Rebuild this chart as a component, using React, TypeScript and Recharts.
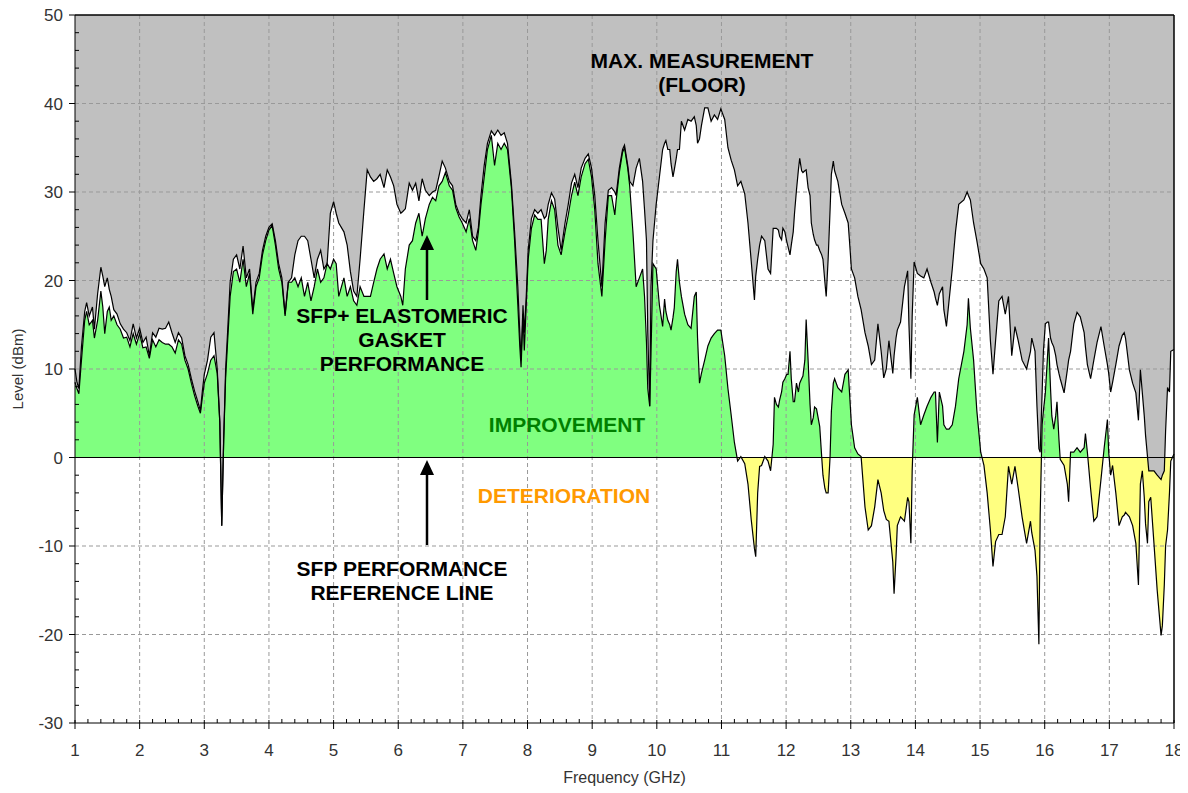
import React from "react";
import {
  Area,
  CartesianGrid,
  ComposedChart,
  Line,
  ReferenceLine,
  XAxis,
  YAxis,
} from "recharts";

// frequency (GHz), max measurement floor (dBm), SFP+ gasket level (dBm)
const FREQ = [
  1.0, 1.03, 1.06, 1.1, 1.15, 1.18, 1.22, 1.27, 1.3, 1.35, 1.4, 1.43, 1.46, 1.5, 1.53, 1.56, 1.6, 1.65, 1.7, 1.75,
  1.8, 1.85, 1.9, 1.95, 2.0, 2.05, 2.1, 2.15, 2.2, 2.25, 2.3, 2.35, 2.4, 2.45, 2.5, 2.55, 2.6, 2.65, 2.7, 2.75,
  2.8, 2.85, 2.9, 2.94, 2.97, 3.0, 3.05, 3.1, 3.15, 3.2, 3.24, 3.27, 3.3, 3.33, 3.36, 3.4, 3.45, 3.5, 3.55, 3.6,
  3.65, 3.7, 3.75, 3.8, 3.85, 3.9, 3.95, 4.0, 4.05, 4.1, 4.15, 4.2, 4.25, 4.3, 4.35, 4.4, 4.45, 4.5, 4.55, 4.6,
  4.65, 4.7, 4.75, 4.8, 4.85, 4.9, 4.95, 5.0, 5.04, 5.08, 5.16, 5.21, 5.26, 5.31, 5.36, 5.41, 5.47, 5.52, 5.57, 5.62,
  5.67, 5.72, 5.78, 5.83, 5.88, 5.93, 5.98, 6.04, 6.07, 6.11, 6.17, 6.22, 6.27, 6.32, 6.37, 6.42, 6.48, 6.53, 6.58, 6.63,
  6.68, 6.73, 6.79, 6.84, 6.89, 6.94, 6.99, 7.05, 7.1, 7.15, 7.2, 7.24, 7.28, 7.33, 7.38, 7.44, 7.49, 7.54, 7.59, 7.64,
  7.69, 7.75, 7.8, 7.85, 7.88, 7.9, 7.93, 7.95, 7.98, 8.01, 8.06, 8.11, 8.16, 8.21, 8.26, 8.29, 8.32, 8.37, 8.42, 8.47,
  8.52, 8.58, 8.63, 8.68, 8.73, 8.78, 8.83, 8.89, 8.94, 8.99, 9.04, 9.09, 9.15, 9.2, 9.25, 9.3, 9.35, 9.37, 9.42, 9.47,
  9.5, 9.55, 9.58, 9.63, 9.68, 9.73, 9.78, 9.81, 9.84, 9.86, 9.89, 9.91, 9.94, 9.99, 10.04, 10.09, 10.12, 10.14, 10.17, 10.2,
  10.22, 10.25, 10.27, 10.3, 10.32, 10.35, 10.38, 10.43, 10.48, 10.53, 10.58, 10.61, 10.63, 10.66, 10.69, 10.74, 10.79, 10.84, 10.89, 10.94,
  10.99, 11.05, 11.1, 11.15, 11.2, 11.25, 11.3, 11.36, 11.41, 11.46, 11.51, 11.53, 11.56, 11.59, 11.62, 11.67, 11.72, 11.76, 11.8, 11.82,
  11.85, 11.88, 11.9, 11.93, 11.95, 11.98, 12.01, 12.03, 12.06, 12.08, 12.11, 12.13, 12.16, 12.19, 12.21, 12.24, 12.26, 12.29, 12.31, 12.34,
  12.37, 12.39, 12.42, 12.44, 12.47, 12.49, 12.52, 12.55, 12.57, 12.6, 12.62, 12.65, 12.68, 12.7, 12.73, 12.75, 12.8, 12.86, 12.91, 12.96,
  12.98, 13.01, 13.06, 13.11, 13.16, 13.22, 13.27, 13.32, 13.37, 13.42, 13.47, 13.51, 13.55, 13.59, 13.65, 13.67, 13.7, 13.72, 13.77, 13.83,
  13.88, 13.9, 13.93, 13.95, 13.98, 14.03, 14.08, 14.13, 14.18, 14.24, 14.29, 14.31, 14.34, 14.37, 14.42, 14.44, 14.48, 14.52, 14.57, 14.62,
  14.67, 14.75, 14.8, 14.82, 14.85, 14.9, 14.95, 15.01, 15.06, 15.11, 15.16, 15.2, 15.24, 15.29, 15.34, 15.39, 15.44, 15.49, 15.54, 15.59,
  15.65, 15.72, 15.78, 15.8, 15.85, 15.88, 15.91, 15.93, 15.96, 15.98, 16.01, 16.04, 16.06, 16.09, 16.11, 16.14, 16.17, 16.19, 16.22, 16.24,
  16.3, 16.35, 16.37, 16.4, 16.45, 16.5, 16.55, 16.61, 16.63, 16.66, 16.71, 16.76, 16.81, 16.87, 16.92, 16.97, 16.99, 17.02, 17.05, 17.1,
  17.15, 17.2, 17.23, 17.25, 17.31, 17.36, 17.41, 17.45, 17.48, 17.51, 17.54, 17.56, 17.59, 17.61, 17.64, 17.69, 17.74, 17.8, 17.82, 17.85,
  17.87, 17.9, 17.93, 17.95, 18.0,
];

const MAX_FLOOR = [
  10.0, 8.5, 7.8, 12.5, 16.5, 17.5, 16.0, 17.0, 14.5, 18.5, 21.5, 20.5, 19.3, 20.3, 19.0, 18.2, 16.7, 16.2, 15.1, 14.5,
  14.1, 13.2, 15.1, 13.5, 14.6, 13.0, 13.6, 11.5, 14.1, 13.6, 14.6, 14.5, 14.6, 15.3, 14.1, 13.0, 14.1, 13.5, 11.5, 10.5,
  8.9, 7.5, 6.3, 5.3, 7.5, 9.4, 11.0, 13.6, 14.1, 10.0, 4.0, -7.7, 2.0, 10.0, 14.1, 19.8, 22.4, 22.9, 21.3, 23.9,
  20.3, 21.3, 16.7, 19.8, 20.8, 23.4, 25.0, 26.0, 26.4, 24.5, 21.9, 20.3, 16.2, 19.8, 20.3, 22.9, 24.5, 25.0, 25.0, 24.5,
  22.4, 20.3, 22.4, 23.4, 21.3, 21.9, 27.6, 28.9, 27.6, 26.5, 25.5, 24.0, 21.0, 18.8, 18.2, 22.4, 28.0, 32.5, 31.7, 31.2,
  31.5, 32.0, 30.5, 32.5, 31.7, 30.7, 28.6, 27.6, 27.8, 28.1, 31.0, 30.2, 31.0, 29.0, 31.5, 30.2, 29.6, 30.0, 30.2, 31.8,
  33.5, 32.7, 31.2, 30.7, 28.6, 27.6, 27.0, 26.5, 28.0, 25.0, 24.5, 26.0, 29.6, 33.0, 35.5, 36.9, 36.4, 37.0, 36.4, 36.7,
  35.5, 31.0, 25.5, 19.3, 14.1, 11.0, 17.2, 14.1, 18.2, 23.4, 27.0, 28.0, 27.6, 28.0, 27.0, 27.3, 28.6, 29.9, 29.2, 26.0,
  23.4, 26.5, 28.6, 31.0, 32.0, 30.5, 32.7, 33.8, 34.3, 32.7, 29.6, 24.5, 19.3, 26.5, 30.2, 30.5, 30.0, 29.6, 32.7, 34.8,
  35.3, 33.0, 31.2, 30.7, 32.7, 33.8, 31.2, 28.0, 24.5, 14.1, 5.8, 19.3, 24.5, 28.6, 31.7, 34.8, 35.5, 35.8, 34.8, 34.8,
  33.2, 31.7, 32.5, 33.8, 34.8, 34.8, 38.0, 37.0, 38.2, 38.0, 38.5, 37.5, 35.5, 36.0, 37.5, 39.5, 39.5, 38.0, 38.7, 38.2,
  39.4, 38.2, 35.0, 33.6, 32.5, 30.7, 31.2, 29.8, 26.5, 22.2, 17.8, 20.5, 22.4, 24.0, 25.0, 24.5, 21.3, 20.8, 25.9, 25.9,
  25.9, 25.7, 25.0, 24.6, 25.9, 25.5, 24.4, 23.8, 22.9, 24.0, 25.5, 27.6, 30.2, 32.5, 33.8, 32.4, 32.2, 32.4, 32.5, 30.5,
  29.6, 26.5, 25.2, 24.6, 24.0, 24.0, 23.4, 22.9, 22.4, 19.8, 18.2, 22.4, 28.0, 32.0, 33.5, 32.4, 31.2, 28.6, 27.6, 26.5,
  24.5, 21.3, 20.3, 18.2, 16.7, 14.1, 12.6, 10.5, 11.0, 15.1, 12.0, 9.0, 10.0, 13.2, 9.5, 11.5, 13.5, 14.4, 15.3, 19.3,
  21.1, 15.0, 8.9, 16.0, 22.1, 20.8, 20.5, 20.3, 21.3, 19.8, 18.7, 18.0, 17.2, 18.5, 19.3, 16.7, 14.8, 17.7, 21.3, 25.5,
  28.6, 29.1, 30.0, 29.6, 29.1, 26.5, 24.5, 21.9, 21.3, 20.3, 13.2, 9.4, 13.2, 17.7, 18.2, 16.2, 18.2, 11.5, 14.8, 13.2,
  11.0, 10.0, 12.0, 13.5, 12.0, 5.8, 1.0, 0.6, 7.3, 12.0, 15.1, 15.3, 15.3, 13.5, 13.0, 12.5, 11.5, 10.5, 9.5, 8.9,
  7.3, 9.9, 11.0, 12.0, 15.1, 16.4, 15.9, 14.1, 12.5, 10.5, 8.9, 11.0, 13.0, 14.8, 12.6, 10.5, 9.5, 7.4, 8.5, 10.5,
  12.6, 13.8, 14.1, 13.5, 9.9, 8.4, 7.3, 4.2, 9.9, 7.3, 4.7, 2.5, 0.1, -1.5, -1.5, -1.5, -2.0, -2.5, -2.0, -1.5,
  3.0, 7.9, 7.4, 12.0, 12.2,
];

const GASKET = [
  8.5, 7.8, 7.2, 11.0, 15.5, 16.5, 15.0, 15.5, 13.5, 15.5, 18.8, 17.0, 14.0, 16.5, 17.0, 15.5, 16.0, 15.0, 14.5, 13.5,
  13.6, 12.5, 14.0, 12.8, 14.0, 12.4, 12.5, 11.2, 13.3, 12.5, 13.3, 13.0, 12.8, 12.8, 12.5, 11.8, 13.3, 12.8, 11.0, 10.0,
  8.4, 7.0, 5.8, 5.0, 6.8, 8.4, 9.5, 11.0, 11.5, 9.5, 4.0, -7.7, 2.0, 9.0, 13.0, 18.2, 21.0, 21.3, 19.8, 22.4,
  19.3, 20.8, 16.2, 19.3, 20.3, 22.9, 24.5, 25.7, 26.2, 24.0, 21.3, 19.8, 16.0, 19.8, 19.8, 20.3, 19.3, 20.3, 18.2, 19.8,
  17.7, 19.3, 21.3, 19.8, 20.3, 21.9, 21.3, 22.4, 21.9, 18.2, 20.3, 18.2, 19.3, 17.7, 17.2, 19.3, 18.2, 18.2, 18.2, 19.8,
  21.3, 22.4, 23.0, 21.3, 22.4, 20.8, 19.3, 18.2, 17.2, 21.3, 24.0, 24.5, 26.5, 27.6, 25.0, 27.0, 28.6, 29.4, 29.0, 30.7,
  31.2, 32.2, 30.7, 30.2, 28.2, 27.2, 26.5, 25.5, 27.0, 24.5, 23.4, 25.5, 28.6, 31.7, 34.8, 36.4, 33.0, 35.5, 34.8, 35.5,
  34.8, 30.5, 24.5, 17.2, 12.6, 10.2, 16.2, 12.1, 17.2, 22.4, 25.9, 27.4, 26.9, 26.9, 21.9, 23.4, 26.9, 29.0, 28.0, 24.0,
  22.9, 25.5, 27.4, 29.6, 31.1, 29.6, 31.7, 33.2, 33.7, 31.7, 28.0, 21.9, 18.2, 24.5, 29.6, 29.6, 27.4, 29.0, 32.2, 34.5,
  35.0, 32.7, 30.7, 25.5, 19.3, 20.3, 21.3, 18.2, 13.0, 7.8, 5.8, 11.7, 21.9, 21.3, 17.2, 14.8, 17.9, 16.5, 15.5, 15.0,
  14.4, 15.8, 16.9, 21.0, 22.4, 19.8, 18.2, 16.2, 15.0, 14.6, 18.2, 18.7, 13.5, 8.4, 9.5, 11.0, 12.6, 13.5, 14.0, 14.4,
  14.4, 11.5, 7.8, 4.8, 1.7, -0.4, 0.1, -0.7, -3.0, -7.0, -10.3, -11.2, -4.0, -1.0, -0.9, 0.1, -0.4, -1.5, 1.5, 6.8,
  6.0, 5.7, 6.5, 7.4, 8.5, 8.9, 9.4, 9.4, 12.0, 8.9, 6.3, 6.3, 8.4, 7.4, 8.4, 8.9, 9.2, 11.0, 15.6, 11.0,
  6.0, 3.7, 4.5, 5.7, 5.5, 4.7, 3.5, 0.1, -2.0, -3.5, -4.0, -4.0, 0.1, 5.2, 8.4, 8.9, 7.9, 7.4, 9.4, 9.9,
  7.4, 3.7, 1.1, 0.4, 0.1, -5.6, -8.2, -7.7, -5.6, -2.5, -4.0, -6.0, -7.0, -7.2, -11.8, -15.4, -11.2, -7.7, -6.7, -7.2,
  -4.5, -5.0, -9.7, -1.5, 4.8, 6.8, 3.7, 4.8, 5.8, 6.8, 7.4, 7.4, 1.7, 7.4, 5.8, 3.7, 3.2, 3.2, 3.7, 5.8,
  8.9, 12.0, 15.0, 18.0, 14.6, 11.0, 5.3, 0.6, -0.9, -4.0, -8.2, -12.3, -9.5, -8.7, -8.7, -6.7, -1.0, -3.0, -1.0, -3.5,
  -6.7, -9.7, -7.2, -8.5, -10.5, -13.4, -21.1, -6.5, 3.7, 5.3, 7.3, 11.0, 13.5, 7.8, 4.7, 3.2, 4.7, 6.3, 2.1, -0.2,
  -0.9, -3.0, -5.0, 0.6, 0.6, 1.1, 0.6, 1.1, 2.7, 0.6, -3.5, -7.2, -6.7, -2.5, 1.1, 4.3, 0.6, -2.0, -0.9, -4.0,
  -7.7, -6.7, -6.5, -6.2, -6.7, -7.7, -9.7, -14.4, -3.0, -1.5, -4.5, -7.5, -9.7, -5.0, -4.5, -9.7, -15.0, -20.1, -19.0, -14.4,
  -10.0, -8.2, -4.0, -0.4, 0.4,
];

const X_MAJOR = [1, 2, 3, 4, 5, 6, 7, 8, 9, 10, 11, 12, 13, 14, 15, 16, 17, 18];
const Y_MAJOR = [-30, -20, -10, 0, 10, 20, 30, 40, 50];

const data = FREQ.map((f, i) => ({ f, max: MAX_FLOOR[i], gasket: GASKET[i] }));

// minor ticks: 5 steps between majors
const subdivide = (majors: number[]) => {
  const out: number[] = [];
  majors.forEach((m, i) => {
    out.push(m);
    if (i < majors.length - 1) {
      const step = (majors[i + 1] - m) / 5;
      for (let k = 1; k < 5; k++) out.push(+(m + step * k).toFixed(4));
    }
  });
  return out;
};
const xTicks = subdivide(X_MAJOR);
const yTicks = subdivide(Y_MAJOR);

// chart covers the whole page (body margin cancelled)
const W = 1188;
const H = 793;
const PLOT_LEFT = 75;
const PLOT_RIGHT = 1174;
const PLOT_TOP = 15;
const PLOT_BOTTOM = 723;
const FONT = "'Liberation Sans', Arial, sans-serif";

const XTick = ({ x, payload }: any) => {
  const v = payload.value;
  if (!X_MAJOR.includes(v)) {
    return <line x1={x} x2={x} y1={PLOT_BOTTOM - 4} y2={PLOT_BOTTOM} stroke="#000" />;
  }
  return (
    <g>
      <line x1={x} x2={x} y1={PLOT_BOTTOM - 3} y2={PLOT_BOTTOM + 6} stroke="#000" />
      <text x={x} y={PLOT_BOTTOM + 33} textAnchor="middle" fontSize={17} fontFamily={FONT} fill="#333">
        {v}
      </text>
    </g>
  );
};

const YTick = ({ y, payload }: any) => {
  const v = payload.value;
  if (!Y_MAJOR.includes(v)) {
    return <line x1={PLOT_LEFT} x2={PLOT_LEFT + 4} y1={y} y2={y} stroke="#000" />;
  }
  return (
    <g>
      <line x1={PLOT_LEFT - 6} x2={PLOT_LEFT} y1={y} y2={y} stroke="#000" />
      <text x={PLOT_LEFT - 12} y={y + 6} textAnchor="end" fontSize={17} fontFamily={FONT} fill="#333">
        {v}
      </text>
    </g>
  );
};

const Arrow = ({ x, tip, tail }: { x: number; tip: number; tail: number }) => (
  <g>
    <line x1={x} x2={x} y1={tip + 12} y2={tail} stroke="#000" strokeWidth={2.5} />
    <polygon points={`${x},${tip} ${x - 7},${tip + 15} ${x + 7},${tip + 15}`} fill="#000" />
  </g>
);

const noteStyle = { fontFamily: FONT, fontWeight: 700, fontSize: 21 } as const;

export default function App() {
  return (
    <div style={{ position: "relative", width: W, height: H, margin: "-8px 0 0 -8px" }}>
      <ComposedChart
        width={W}
        height={H}
        data={data}
        margin={{ top: PLOT_TOP, right: W - PLOT_RIGHT, left: 0, bottom: 40 }}
      >
        <defs>
          <linearGradient id="gk" gradientUnits="userSpaceOnUse" x1={0} y1={PLOT_TOP} x2={0} y2={PLOT_BOTTOM}>
            <stop offset={0.625} stopColor="#80ff80" />
            <stop offset={0.625} stopColor="#ffff80" />
          </linearGradient>
        </defs>
        <XAxis
          dataKey="f"
          type="number"
          domain={[1, 18]}
          ticks={xTicks}
          interval={0}
          tickLine={false}
          axisLine={{ stroke: "#000" }}
          tick={<XTick />}
          height={30}
          label={{ value: "Frequency (GHz)", position: "bottom", offset: 19, fontSize: 16, fontFamily: FONT, fill: "#333" }}
        />
        <YAxis
          type="number"
          domain={[-30, 50]}
          ticks={yTicks}
          interval={0}
          tickLine={false}
          axisLine={{ stroke: "#000" }}
          tick={<YTick />}
          width={PLOT_LEFT}
          allowDataOverflow
          label={{
            value: "Level (dBm)",
            angle: -90,
            position: "insideLeft",
            offset: 18,
            fontSize: 15,
            fontFamily: FONT,
            fill: "#333",
            style: { textAnchor: "middle" },
          }}
        />
        <Area
          type="linear"
          dataKey="gasket"
          baseValue={0}
          fill="url(#gk)"
          fillOpacity={1}
          stroke="none"
          isAnimationActive={false}
        />
        <Area
          type="linear"
          dataKey={(d: any) => [d.max, 50]}
          fill="#c0c0c0"
          fillOpacity={1}
          stroke="none"
          isAnimationActive={false}
        />
        <CartesianGrid
          zIndex={150}
          horizontalValues={[-20, -10, 10, 20, 30, 40]}
          verticalValues={[2, 3, 4, 5, 6, 7, 8, 9, 10, 11, 12, 13, 14, 15, 16, 17]}
          stroke="#999"
          strokeDasharray="4 3"
        />
        <Line type="linear" dataKey="gasket" stroke="#000" strokeWidth={1.2} dot={false} isAnimationActive={false} />
        <Line type="linear" dataKey="max" stroke="#000" strokeWidth={1.2} dot={false} isAnimationActive={false} />
        <ReferenceLine y={0} stroke="#000" strokeWidth={1.2} />
        <ReferenceLine y={50} stroke="#000" strokeWidth={1.5} />
        <ReferenceLine x={18} stroke="#000" strokeWidth={1.5} />
      </ComposedChart>
      <svg width={W} height={H} style={{ position: "absolute", left: 0, top: 0, pointerEvents: "none" }}>
        <g textAnchor="middle" style={noteStyle}>
          <text x={702} y={68}>MAX. MEASUREMENT</text>
          <text x={702} y={92}>(FLOOR)</text>
          <text x={402} y={323}>SFP+ ELASTOMERIC</text>
          <text x={402} y={347}>GASKET</text>
          <text x={402} y={371}>PERFORMANCE</text>
          <text x={567} y={432} fill="#008000">IMPROVEMENT</text>
          <text x={564} y={503} fill="#ff9900">DETERIORATION</text>
          <text x={402} y={576}>SFP PERFORMANCE</text>
          <text x={402} y={600}>REFERENCE LINE</text>
        </g>
        <Arrow x={427} tip={235} tail={300} />
        <Arrow x={427} tip={460} tail={545} />
      </svg>
    </div>
  );
}
